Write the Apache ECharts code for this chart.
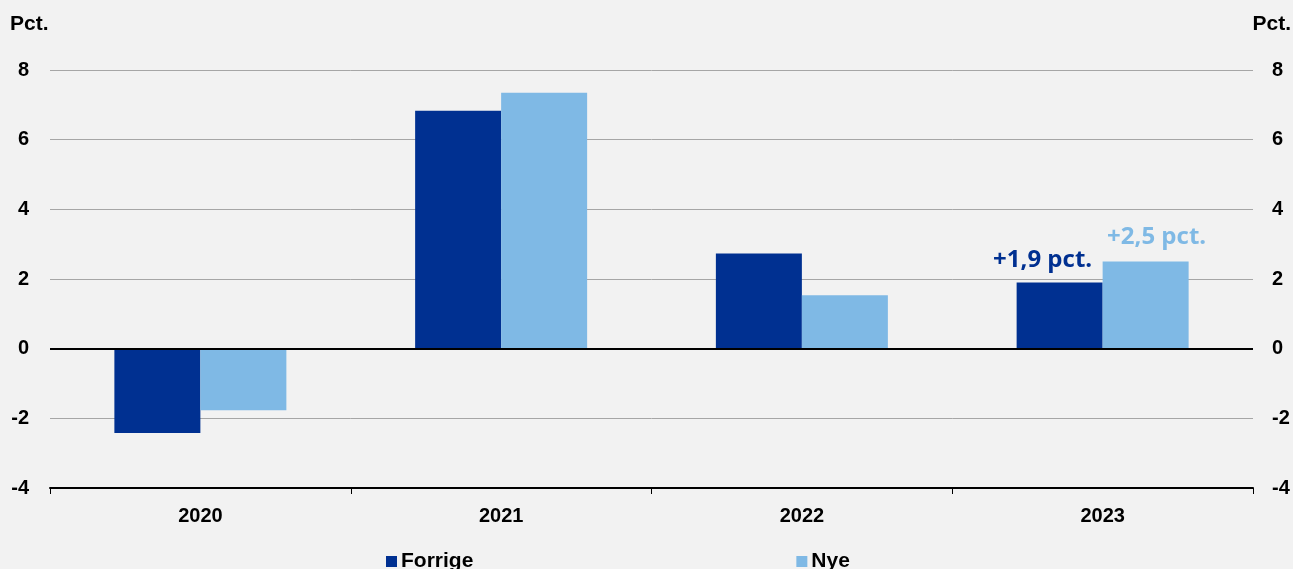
<!DOCTYPE html>
<html>
<head>
<meta charset="utf-8">
<script src="https://cdn.jsdelivr.net/npm/echarts@6/dist/echarts.min.js"></script>
<style>
  html, body { margin: 0; padding: 0; background: #f2f2f2; }
  #chart { width: 1293px; height: 569px; }
</style>
</head>
<body>
<div id="chart"></div>
<script>
const years = ['2020', '2021', '2022', '2023']
const forrige = [-2.42, 6.83, 2.73, 1.9]
const nye = [-1.77, 7.35, 1.53, 2.5]
const yTicks = { min: -4, max: 8, interval: 2 }
const labelForrige = '+1,9 pct.'
const labelNye = '+2,5 pct.'

const chart = echarts.init(document.getElementById('chart'))

const axisFont = {
  fontFamily: 'Liberation Sans, Arial, sans-serif',
  fontWeight: 'bold',
  fontSize: 20,
  color: '#000',
}

const valueAxis = (side) => ({
  type: 'value',
  position: side,
  min: yTicks.min,
  max: yTicks.max,
  interval: yTicks.interval,
  axisLine: { show: false },
  axisTick: { show: false },
  splitLine: { show: side === 'left', lineStyle: { color: '#a6a6a6', width: 1 } },
  axisLabel: {
    ...axisFont,
    margin: side === 'left' ? 21 : 19,
  },
})

const option = {
  backgroundColor: '#f2f2f2',
  animation: false,
  grid: { left: 50, right: 40, top: 70, bottom: 81 },
  legend: {
    left: 381,
    top: 546,
    itemWidth: 11,
    itemHeight: 11,
    itemGap: 323,
    icon: 'rect',
    textStyle: { ...axisFont, fontSize: 21, padding: [0, 0, 0, -1] },
    data: ['Forrige', 'Nye'],
  },
  graphic: [
    { type: 'text', left: 10, top: 14, style: { text: 'Pct.', font: 'bold 21px "Liberation Sans", Arial', fill: '#000' } },
    { type: 'text', right: 2, top: 14, style: { text: 'Pct.', font: 'bold 21px "Liberation Sans", Arial', fill: '#000' } },
  ],
  xAxis: {
    type: 'category',
    data: years,
    axisLine: { onZero: false, lineStyle: { color: '#000', width: 2 } },
    axisTick: { show: true, length: 6, lineStyle: { color: '#000', width: 1 } },
    axisLabel: { ...axisFont, margin: 18 },
  },
  yAxis: [valueAxis('left'), valueAxis('right')],
  series: [
    {
      name: 'Forrige',
      type: 'bar',
      data: forrige,
      barWidth: 86,
      barGap: '0%',
      itemStyle: { color: '#003091' },
      label: {
        show: true,
        position: 'top',
        distance: 10,
        offset: [-17, 0],
        formatter: (p) => (p.dataIndex === 3 ? labelForrige : ''),
        color: '#003091',
        fontFamily: 'Open Sans, sans-serif',
        fontWeight: 'bold',
        fontSize: 24,
      },
      markLine: {
        silent: true,
        symbol: 'none',
        label: { show: false },
        lineStyle: { color: '#000', width: 2, type: 'solid' },
        data: [{ yAxis: 0 }],
        z: 10,
      },
    },
    {
      name: 'Nye',
      type: 'bar',
      data: nye,
      barWidth: 86,
      barGap: '0%',
      itemStyle: { color: '#7fb9e5' },
      label: {
        show: true,
        position: 'top',
        distance: 12,
        offset: [11, 0],
        formatter: (p) => (p.dataIndex === 3 ? labelNye : ''),
        color: '#7fb9e5',
        fontFamily: 'Open Sans, sans-serif',
        fontWeight: 'bold',
        fontSize: 24,
      },
    },
  ],
}

chart.setOption(option)
</script>
</body>
</html>
